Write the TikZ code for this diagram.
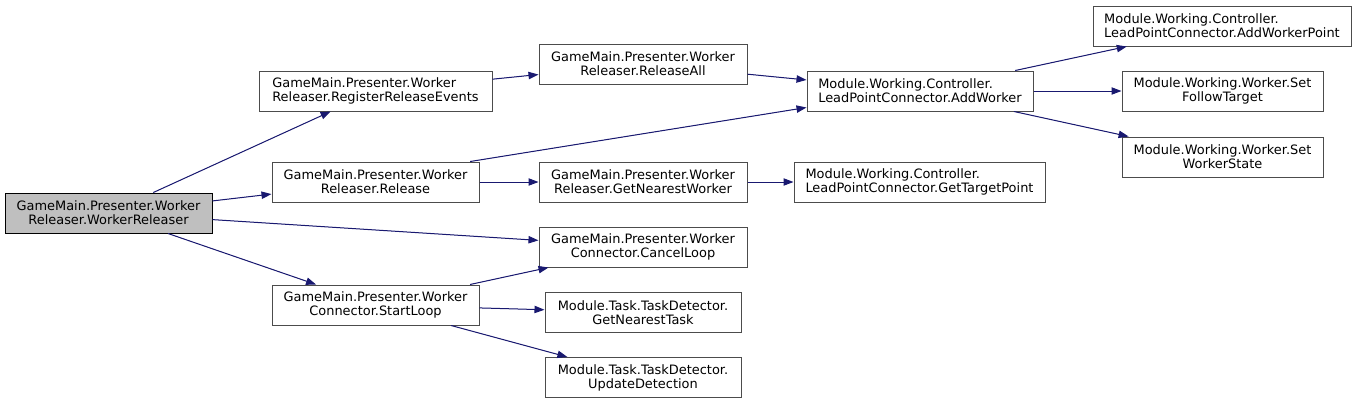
\documentclass[tikz,border=0pt]{standalone}
\usepackage{fontspec}
\setmainfont{DejaVu Sans}
\usetikzlibrary{arrows.meta}
\definecolor{edgeblue}{HTML}{191970}

\begin{document}
\begin{tikzpicture}[x=0.75pt, y=-0.75pt,
    font=\fontsize{9.7pt}{10.5pt}\selectfont,
    fn/.style={rectangle, draw=black!70, fill=white, line width=0.75pt, inner sep=0pt, minimum height=30pt, align=center},
    >={Triangle[length=7.5pt,width=5.5pt]},
    call/.style={->, draw=edgeblue, fill=edgeblue, line width=0.75pt}]
        \useasboundingbox (0,0) rectangle (1357,404);

        \node[fn, draw=black, fill=black!25, minimum width=155.25pt] (Root) at (108.5,213) {GameMain.Presenter.Worker\\Releaser.WorkerReleaser};
        \node[fn, align=left, minimum width=174.75pt] (RegEv) at (375.5,91) {GameMain.Presenter.Worker\\Releaser.RegisterReleaseEvents};
        \node[fn, minimum width=155.25pt] (Rel) at (375.5,182) {GameMain.Presenter.Worker\\Releaser.Release};
        \node[fn, minimum width=155.25pt] (Start) at (375.5,305) {GameMain.Presenter.Worker\\Connector.StartLoop};
        \node[fn, minimum width=156pt] (RelAll) at (643,64) {GameMain.Presenter.Worker\\Releaser.ReleaseAll};
        \node[fn, minimum width=156pt] (GetNW) at (643,182) {GameMain.Presenter.Worker\\Releaser.GetNearestWorker};
        \node[fn, minimum width=156pt] (Cancel) at (643,247) {GameMain.Presenter.Worker\\Connector.CancelLoop};
        \node[fn, minimum width=147pt] (GetNT) at (643,312.5) {Module.Task.TaskDetector.\\GetNearestTask};
        \node[fn, minimum width=147pt] (UpdD) at (643,377.5) {Module.Task.TaskDetector.\\UpdateDetection};
        \node[fn, align=left, minimum width=169.5pt] (AddW) at (920,91) {Module.Working.Controller.\\LeadPointConnector.AddWorker};
        \node[fn, align=left, minimum width=188.25pt] (GetTP) at (919.5,182) {Module.Working.Controller.\\LeadPointConnector.GetTargetPoint};
        \node[fn, align=left, minimum width=193.5pt] (AddWP) at (1222,26) {Module.Working.Controller.\\LeadPointConnector.AddWorkerPoint};
        \node[fn, minimum width=150.75pt] (SetFT) at (1222.5,91) {Module.Working.Worker.Set\\FollowTarget};
        \node[fn, minimum width=150.75pt] (SetWS) at (1222.5,157) {Module.Working.Worker.Set\\WorkerState};

        \draw[call] (Root) -- (RegEv);
        \draw[call] (Root) -- (Rel);
        \draw[call] (Root) -- (Cancel);
        \draw[call] (Root) -- (Start);
        \draw[call] (RegEv) -- (RelAll);
        \draw[call] ([xshift=-7pt]Rel.north east) -- ([yshift=3pt]AddW.south west);
        \draw[call] (Rel) -- (GetNW);
        \draw[call] (RelAll) -- (AddW);
        \draw[call] (GetNW) -- (GetTP);
        \draw[call] (Start) -- (Cancel);
        \draw[call] (Start) -- (GetNT);
        \draw[call] (Start) -- (UpdD);
        \draw[call] (AddW) -- (AddWP);
        \draw[call] (AddW) -- (SetFT);
        \draw[call] (AddW) -- (SetWS);
    \end{tikzpicture}
\end{document}
